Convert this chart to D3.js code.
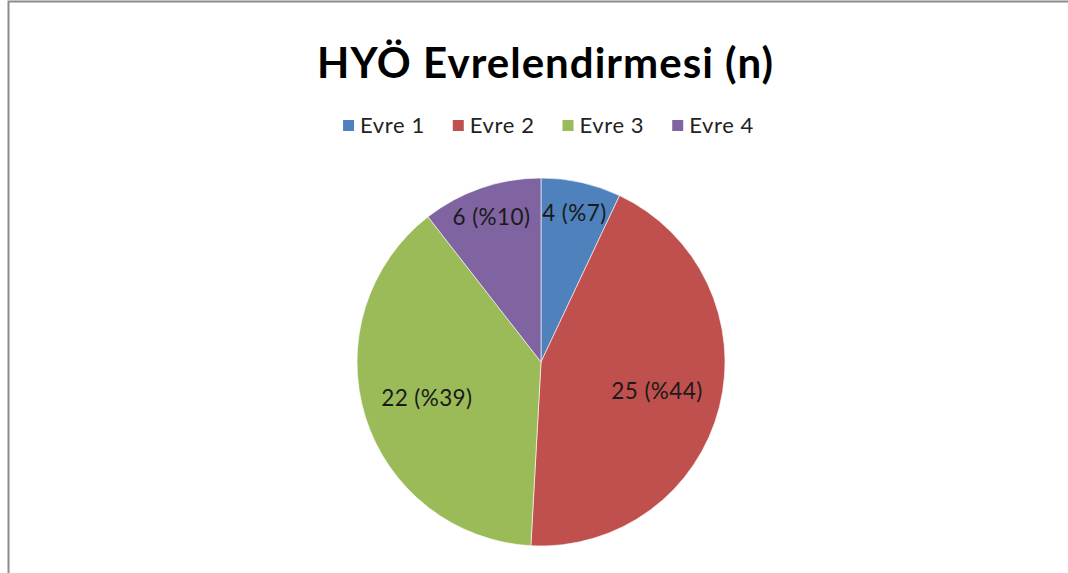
<!DOCTYPE html>
<html><head><meta charset="utf-8">
<script src="https://cdn.jsdelivr.net/npm/d3@7"></script>
<style>body{margin:0;background:#fff;}svg{display:block;}</style>
</head><body>
<script>
const categories = ["Evre 1", "Evre 2", "Evre 3", "Evre 4"];
const values = [4, 25, 22, 6];
const percentLabels = ["%7", "%44", "%39", "%10"];
const colors = ["#4F81BD", "#C0504D", "#9BBB59", "#8064A2"];
const title = "HYÖ Evrelendirmesi (n)";

const W = 1068, H = 573;
const svg = d3.select("body").append("svg").attr("width", W).attr("height", H);
svg.append("rect").attr("width", W).attr("height", H).attr("fill", "#fff");

// border (top and left visible)
svg.append("path").attr("d", `M8.5,${H} L8.5,1.5 L${W},1.5`)
  .attr("fill", "none").attr("stroke", "#8c8c8c").attr("stroke-width", 2);

const font = "Lato, 'Open Sans', sans-serif";

svg.append("text").attr("x", 545).attr("y", 78).attr("text-anchor", "middle")
  .attr("font-family", font).attr("font-weight", 700).attr("font-size", 42)
  .attr("textLength", 456).attr("lengthAdjust", "spacing")
  .attr("fill", "#000").text(title);

// legend
const legend = svg.append("g");
const lgSize = 22;
const gap = 28;
let xPos = 0;
categories.forEach((c, i) => {
  const g = legend.append("g");
  g.append("rect").attr("x", 0).attr("y", -13).attr("width", 11).attr("height", 11).attr("fill", colors[i]);
  const t = g.append("text").attr("x", 17).attr("y", 0).attr("font-family", font)
    .attr("font-size", lgSize).attr("letter-spacing", 0.6).attr("fill", "#222").text(c);
  const w = 17 + t.node().getComputedTextLength();
  g.attr("transform", `translate(${xPos},0)`);
  xPos += w + gap;
});
const totalW = xPos - gap;
legend.attr("transform", `translate(${548.5 - totalW / 2},133)`);

// pie
const cx = 541, cy = 362, R = 184;
const pie = d3.pie().sort(null).value(d => d);
const arcs = pie(values);
const arc = d3.arc().innerRadius(0).outerRadius(R);
const g = svg.append("g").attr("transform", `translate(${cx},${cy})`);
g.selectAll("path").data(arcs).join("path")
  .attr("d", arc).attr("fill", (d, i) => colors[i])
  .attr("stroke", "#fff").attr("stroke-width", 0.6);

g.selectAll("text").data(arcs).join("text")
  .attr("transform", d => {
    const frac = (d.endAngle - d.startAngle) / (2 * Math.PI);
    const r = frac < 0.15 ? R * 0.83 : R * 0.65;
    const a = (d.startAngle + d.endAngle) / 2;
    return `translate(${Math.sin(a) * r},${-Math.cos(a) * r})`;
  })
  .attr("text-anchor", "middle").attr("dy", "0.35em")
  .attr("font-family", font).attr("font-size", 22.5).attr("letter-spacing", 0.4)
  .attr("fill", "#1a1a1a")
  .text((d, i) => `${values[i]} (${percentLabels[i]})`);
</script>
</body></html>
